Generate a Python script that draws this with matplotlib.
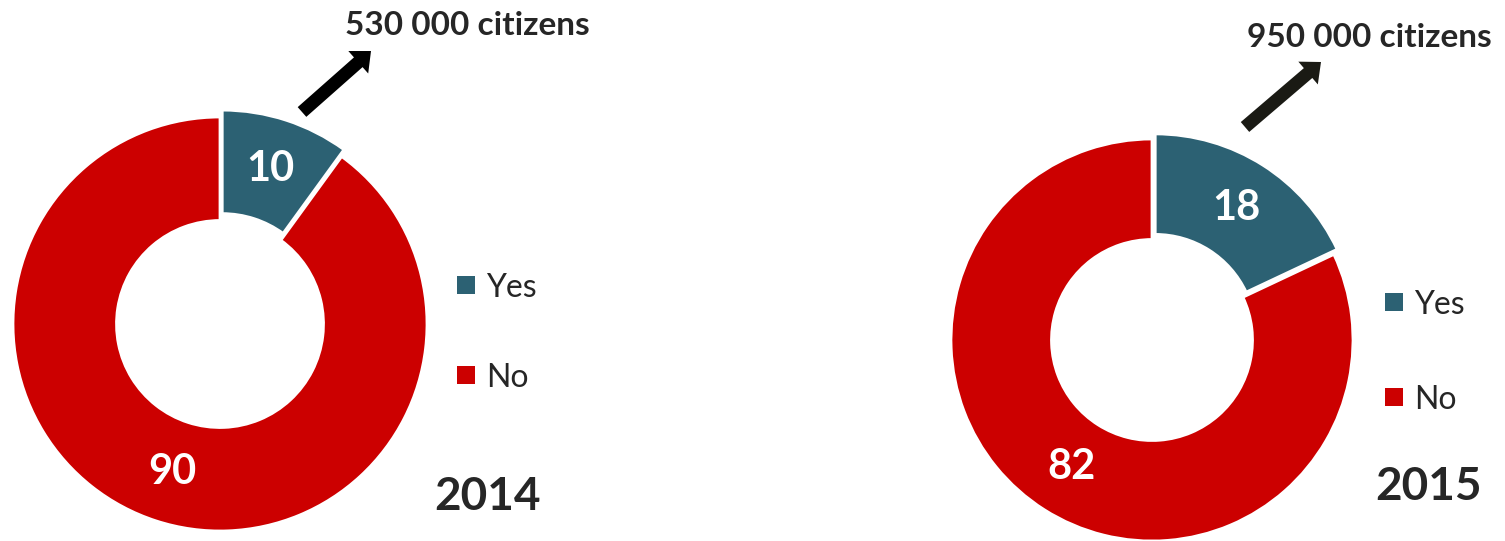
import numpy as np
import matplotlib.pyplot as plt

plt.rcParams['font.family'] = ['Lato', 'DejaVu Sans']

# data
years = ['2014', '2015']
yes_share = [10, 18]
no_share = [90, 82]
citizens = ['530 000 citizens', '950 000 citizens']
labels = ['Yes', 'No']
colors = ['#2C6173', '#CC0000']
text_color = '#262626'

W, H = 1505, 541
fig = plt.figure(figsize=(W / 100, H / 100), dpi=100)

# layout of each panel in pixels (top-left origin)
centers = [(220, 324), (1152, 340)]
radii = [207, 201]
explode_yes = [0.035, 0.03]
arrows = [((302, 112), (371, 51), 'black'), ((1245, 127), (1321, 62), '#1a1a14')]
citizen_xy = [(345, 35), (1247, 47)]
legend_x = [457, 1385]
legend_y = [(285, 375), (302, 397)]
year_xy = [(434, 510), (1375, 500)]


def pie_axes(cx, cy, r, pad=1.12):
    half = r * pad
    ax = fig.add_axes([(cx - half) / W, (H - cy - half) / H, 2 * half / W, 2 * half / H])
    ax.set_xlim(-pad, pad)
    ax.set_ylim(-pad, pad)
    ax.set_aspect('equal')
    ax.axis('off')
    return ax


for i in range(2):
    ax = pie_axes(centers[i][0], centers[i][1], radii[i])
    vals = [yes_share[i], no_share[i]]
    wedges, _ = ax.pie(vals, colors=colors, startangle=90, counterclock=False,
                       radius=1.0, explode=[explode_yes[i], 0],
                       wedgeprops=dict(width=0.5, edgecolor='white', linewidth=2))
    ax.set_xlim(-1.12, 1.12)
    ax.set_ylim(-1.12, 1.12)
    for w, v in zip(wedges, vals):
        mid = np.deg2rad((w.theta1 + w.theta2) / 2)
        cx, cy = w.center
        ax.text(cx + 0.75 * np.cos(mid), cy + 0.75 * np.sin(mid), str(v),
                ha='center', va='center', color='white', fontsize=30, fontweight='bold')

# overlay in pixel coordinates
ov = fig.add_axes([0, 0, 1, 1])
ov.set_xlim(0, W)
ov.set_ylim(H, 0)
ov.axis('off')

for i in range(2):
    (x0, y0), (x1, y1), c = arrows[i]
    ov.arrow(x0, y0, x1 - x0, y1 - y0, width=13, head_width=30, head_length=17,
             length_includes_head=True, color=c, lw=0)
    ov.text(citizen_xy[i][0], citizen_xy[i][1], citizens[i], ha='left', va='baseline',
            fontsize=24, fontweight='bold', color=text_color)
    for lab, col, ly in zip(labels, colors, legend_y[i]):
        ov.add_patch(plt.Rectangle((legend_x[i], ly - 9), 18, 18, color=col, lw=0))
        ov.text(legend_x[i] + 29, ly + 12, lab, ha='left', va='baseline',
                fontsize=23, color=text_color)
    ov.text(year_xy[i][0], year_xy[i][1], years[i], ha='left', va='baseline',
            fontsize=33, fontweight='bold', color=text_color)

fig.savefig('out.png', dpi=100)
